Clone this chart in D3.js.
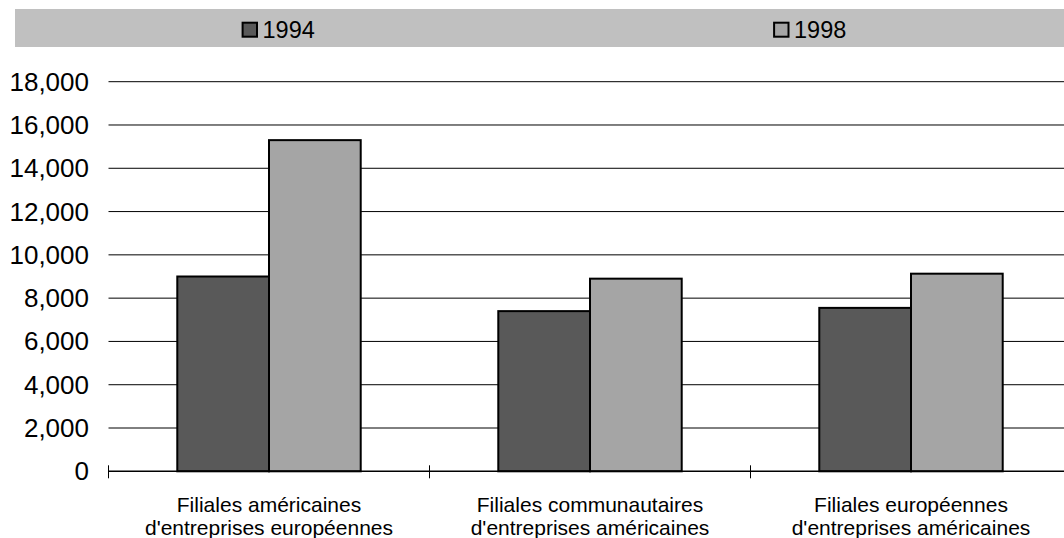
<!DOCTYPE html>
<html>
<head>
<meta charset="utf-8">
<script src="https://cdn.jsdelivr.net/npm/d3@7"></script>
<style>
  html, body { margin: 0; padding: 0; background: #ffffff; }
  svg { display: block; font-family: "Liberation Sans", Arial, sans-serif; }
</style>
</head>
<body>
<svg id="chart" width="1064" height="538"></svg>
<script>
// Categories (two-line labels) and series values
const categories = [
  ["Filiales américaines", "d'entreprises européennes"],
  ["Filiales communautaires", "d'entreprises américaines"],
  ["Filiales européennes", "d'entreprises américaines"]
];
const seriesNames = ["1994", "1998"];
const values1994 = [9000, 7400, 7550];
const values1998 = [15300, 8900, 9130];
const yTicks = [0, 2000, 4000, 6000, 8000, 10000, 12000, 14000, 16000, 18000];

const colors = { "1994": "#595959", "1998": "#a5a5a5" };

const svg = d3.select("#chart");
const W = 1064;

const plot = { left: 108.5, right: 1071.5, top: 81.7, bottom: 471.3 };

const catKeys = categories.map((d, i) => i);
const x0 = d3.scaleBand().domain(catKeys).range([plot.left, plot.right]).paddingInner(0).paddingOuter(0);
const x1 = d3.scaleBand().domain(seriesNames).range([0, x0.bandwidth()]).paddingInner(0).paddingOuter(0.75);
const y = d3.scaleLinear().domain([0, 18000]).range([plot.bottom, plot.top]);

// Legend band
svg.append("rect")
  .attr("x", 15).attr("y", 9)
  .attr("width", W - 15).attr("height", 38)
  .attr("fill", "#c0c0c0");

const legendPos = { "1994": 242, "1998": 773.5 };
seriesNames.forEach(s => {
  const g = svg.append("g").attr("transform", `translate(${legendPos[s]},0)`);
  g.append("rect")
    .attr("x", 0.6).attr("y", 22.7)
    .attr("width", 14.4).attr("height", 14)
    .attr("fill", colors[s]).attr("stroke", "#000").attr("stroke-width", 2);
  g.append("text")
    .attr("x", 20.5).attr("y", 37.7)
    .attr("font-size", 23.5).attr("fill", "#000")
    .text(s);
});

// Horizontal gridlines
svg.append("g")
  .selectAll("line")
  .data(yTicks.filter(t => t > 0))
  .join("line")
  .attr("x1", plot.left).attr("x2", plot.right)
  .attr("y1", d => y(d)).attr("y2", d => y(d))
  .attr("stroke", "#000").attr("stroke-width", 1);

// Y tick labels
svg.append("g")
  .selectAll("text")
  .data(yTicks)
  .join("text")
  .attr("x", 89).attr("y", d => y(d) + 9)
  .attr("text-anchor", "end")
  .attr("font-size", 26).attr("fill", "#000")
  .text(d => d3.format(",")(d));

// Bars
const groups = svg.append("g")
  .selectAll("g")
  .data(catKeys)
  .join("g")
  .attr("transform", i => `translate(${x0(i)},0)`);

groups.selectAll("rect")
  .data(i => seriesNames.map(s => ({ s, v: s === "1994" ? values1994[i] : values1998[i] })))
  .join("rect")
  .attr("x", d => x1(d.s))
  .attr("y", d => y(d.v))
  .attr("width", x1.bandwidth())
  .attr("height", d => y(0) - y(d.v))
  .attr("fill", d => colors[d.s])
  .attr("stroke", "#000").attr("stroke-width", 2);

// Category axis with crossing tick marks
const xAxis = svg.append("g");
xAxis.append("line")
  .attr("x1", plot.left).attr("x2", plot.right)
  .attr("y1", y(0)).attr("y2", y(0))
  .attr("stroke", "#000").attr("stroke-width", 1.5);
xAxis.selectAll("line.tick")
  .data(catKeys.concat([categories.length]))
  .join("line")
  .attr("class", "tick")
  .attr("x1", i => i < categories.length ? x0(i) : plot.right)
  .attr("x2", i => i < categories.length ? x0(i) : plot.right)
  .attr("y1", y(0) - 6).attr("y2", y(0) + 7)
  .attr("stroke", "#000").attr("stroke-width", 1);

const labels = svg.append("g")
  .selectAll("text")
  .data(catKeys)
  .join("text")
  .attr("text-anchor", "middle")
  .attr("font-size", 21).attr("fill", "#000");
labels.each(function (i) {
  const cx = x0(i) + x0.bandwidth() / 2;
  const t = d3.select(this);
  categories[i].forEach((line, k) => {
    t.append("tspan").attr("x", cx).attr("y", 511.5 + k * 23).text(line);
  });
});
</script>
</body>
</html>
